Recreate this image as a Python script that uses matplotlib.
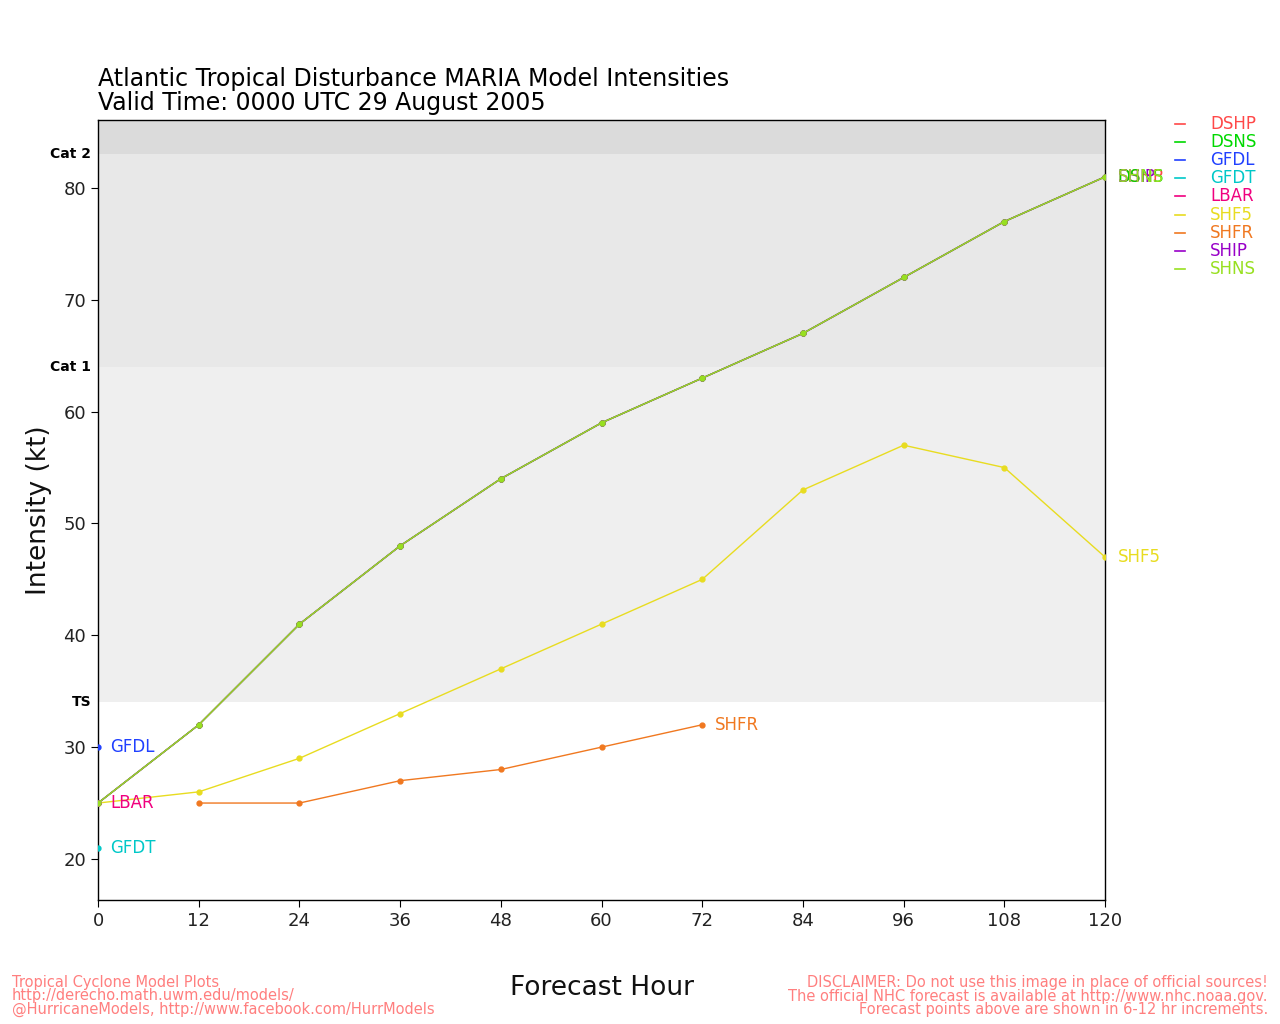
import matplotlib
matplotlib.use("Agg")
import matplotlib.pyplot as plt
import numpy as np

hours = [0, 12, 24, 36, 48, 60, 72, 84, 96, 108, 120]
models = ["DSHP", "DSNS", "GFDL", "GFDT", "LBAR", "SHF5", "SHFR", "SHIP", "SHNS"]
colors = {"DSHP": "#ff4848", "DSNS": "#00d800", "GFDL": "#2040ff", "GFDT": "#00c8c8",
          "LBAR": "#f0007f", "SHF5": "#e8dc20", "SHFR": "#f07820", "SHIP": "#9800c8",
          "SHNS": "#98e020"}

dshp_hours = hours
dshp_vals = [25, 32, 41, 48, 54, 59, 63, 67, 72, 77, 81]
dsns_hours = hours
dsns_vals = [25, 32, 41, 48, 54, 59, 63, 67, 72, 77, 81]
gfdl_hours = [0]
gfdl_vals = [30]
gfdt_hours = [0]
gfdt_vals = [21]
lbar_hours = [0]
lbar_vals = [25]
shf5_hours = hours
shf5_vals = [25, 26, 29, 33, 37, 41, 45, 53, 57, 55, 47]
shfr_hours = [12, 24, 36, 48, 60, 72]
shfr_vals = [25, 25, 27, 28, 30, 32]
ship_hours = hours
ship_vals = [25, 32, 41, 48, 54, 59, 63, 67, 72, 77, 81]
shns_hours = hours
shns_vals = [25, 32, 41, 48, 54, 59, 63, 67, 72, 77, 81]

series = {
    "DSHP": (dshp_hours, dshp_vals), "DSNS": (dsns_hours, dsns_vals),
    "GFDL": (gfdl_hours, gfdl_vals), "GFDT": (gfdt_hours, gfdt_vals),
    "LBAR": (lbar_hours, lbar_vals), "SHF5": (shf5_hours, shf5_vals),
    "SHFR": (shfr_hours, shfr_vals), "SHIP": (ship_hours, ship_vals),
    "SHNS": (shns_hours, shns_vals),
}

categories = [(34, "TS"), (64, "Cat 1"), (83, "Cat 2")]

fig = plt.figure(figsize=(12.8, 10.24), dpi=100)
ax = fig.add_axes([0.0766, 0.1211, 0.7867, 0.7617])
ylo, yhi = 16.33, 86.08
ax.set_xlim(0, 120)
ax.set_ylim(ylo, yhi)

# category bands
ax.axhspan(34, 64, color="#efefef", zorder=0, lw=0)
ax.axhspan(64, 83, color="#e8e8e8", zorder=0, lw=0)
ax.axhspan(83, yhi, color="#dbdbdb", zorder=0, lw=0)
for lvl, name in categories:
    ax.annotate(name, xy=(0, lvl), xycoords=("axes fraction", "data"),
                xytext=(-5, 0), textcoords="offset points", ha="right", va="center",
                fontsize=10, fontweight="bold", color="black")

for m in models:
    h, v = series[m]
    ax.plot(h, v, color=colors[m], lw=1.0, marker="o", ms=3.5, zorder=3)
    ax.annotate(m, xy=(h[-1], v[-1]), xytext=(9, 0), textcoords="offset points",
                ha="left", va="center", fontsize=12, color=colors[m],
                annotation_clip=False, zorder=4)

ax.set_xticks(hours)
ax.set_yticks([20, 30, 40, 50, 60, 70, 80])
ax.tick_params(labelsize=13, length=5, color="black", labelcolor="#222222")
for s in ax.spines.values():
    s.set_linewidth(1.0)

ax.set_ylabel("Intensity (kt)", fontsize=19, color="#111111", labelpad=8)
fig.text(0.47, 1 - 988 / 1024, "Forecast Hour", fontsize=19, ha="center", va="center", color="#111111")

fig.text(0.0766, 1 - 79 / 1024, "Atlantic Tropical Disturbance MARIA Model Intensities",
         fontsize=17, ha="left", va="center", color="black")
fig.text(0.0766, 1 - 103 / 1024, "Valid Time: 0000 UTC 29 August 2005",
         fontsize=17, ha="left", va="center", color="black")

# legend
for i, m in enumerate(models):
    y = 1 - (124 + i * 18.1) / 1024
    fig.add_artist(plt.Line2D([1175 / 1280, 1185 / 1280], [y, y], color=colors[m], lw=1.2,
                              transform=fig.transFigure))
    fig.text(1210 / 1280, y, m, fontsize=12, color=colors[m], ha="left", va="center")

pink = "#ff7f7f"
left_lines = ["Tropical Cyclone Model Plots", "http://derecho.math.uwm.edu/models/",
              "@HurricaneModels, http://www.facebook.com/HurrModels"]
right_lines = ["DISCLAIMER: Do not use this image in place of official sources!",
               "The official NHC forecast is available at http://www.nhc.noaa.gov.",
               "Forecast points above are shown in 6-12 hr increments."]
fig.text(12 / 1280, 1 - 996 / 1024, "\n".join(left_lines), fontsize=10.5, color=pink,
         ha="left", va="center", linespacing=0.86)
fig.text(1268 / 1280, 1 - 996 / 1024, "\n".join(right_lines), fontsize=10.5, color=pink,
         ha="right", va="center", multialignment="right", linespacing=0.86)

fig.savefig("out.png", dpi=100, facecolor="white")
